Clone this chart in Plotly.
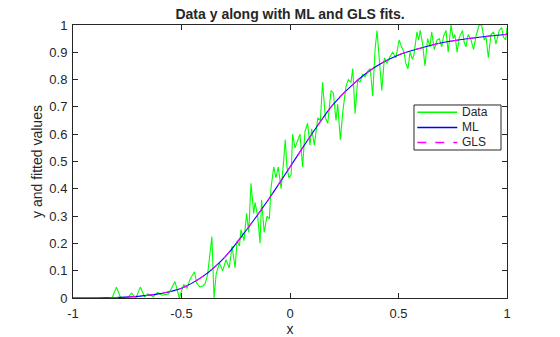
import plotly.graph_objects as go

data_x = [-1.00, -0.90, -0.82, -0.80, -0.78, -0.75, -0.73, -0.71, -0.69, -0.67,
          -0.655, -0.63, -0.61, -0.59, -0.56, -0.53, -0.51, -0.49, -0.475, -0.46,
          -0.44, -0.43, -0.415, -0.40, -0.39, -0.38, -0.36, -0.35, -0.34, -0.325,
          -0.31, -0.295, -0.28, -0.267, -0.253, -0.244, -0.233, -0.226, -0.212, -0.20,
          -0.19, -0.18, -0.167, -0.161, -0.149, -0.138, -0.131, -0.119, -0.106, -0.095,
          -0.088, -0.075, -0.065, -0.054, -0.041, -0.029, -0.022, -0.014, -0.005, 0.005,
          0.012, 0.023, 0.035, 0.046, 0.058, 0.069, 0.081, 0.092, 0.10, 0.112,
          0.128, 0.14, 0.15, 0.163, 0.174, 0.189, 0.20, 0.212, 0.22, 0.232,
          0.243, 0.258, 0.269, 0.281, 0.289, 0.30, 0.312, 0.323, 0.335, 0.346,
          0.358, 0.37, 0.381, 0.392, 0.401, 0.412, 0.423, 0.435, 0.447, 0.458,
          0.473, 0.488, 0.503, 0.514, 0.526, 0.533, 0.544, 0.553, 0.564, 0.571,
          0.585, 0.593, 0.60, 0.611, 0.622, 0.634, 0.645, 0.653, 0.665, 0.677,
          0.688, 0.699, 0.708, 0.719, 0.729, 0.742, 0.752, 0.76, 0.77, 0.78,
          0.795, 0.803, 0.811, 0.821, 0.834, 0.846, 0.857, 0.872, 0.883, 0.895,
          0.903, 0.914, 0.926, 0.938, 0.949, 0.964, 0.975, 0.984, 0.994, 1.00]
data_y = [0.0, 0.0, 0.0, 0.04, 0.0, 0.0, 0.018, 0.0, 0.04, 0.005,
          0.015, 0.005, 0.02, 0.01, 0.015, 0.06, 0.0, 0.05, 0.035, 0.07,
          0.096, 0.055, 0.04, 0.045, 0.055, 0.084, 0.225, 0.0, 0.09, 0.127,
          0.10, 0.14, 0.11, 0.19, 0.11, 0.21, 0.19, 0.25, 0.21, 0.31,
          0.24, 0.42, 0.31, 0.35, 0.30, 0.20, 0.36, 0.24, 0.30, 0.29,
          0.40, 0.48, 0.44, 0.48, 0.40, 0.505, 0.58, 0.48, 0.44, 0.45,
          0.60, 0.55, 0.58, 0.60, 0.48, 0.61, 0.64, 0.56, 0.62, 0.56,
          0.66, 0.65, 0.79, 0.66, 0.64, 0.76, 0.75, 0.65, 0.71, 0.58,
          0.68, 0.775, 0.80, 0.79, 0.84, 0.675, 0.80, 0.79, 0.82, 0.81,
          0.83, 0.84, 0.74, 0.91, 0.98, 0.86, 0.76, 0.88, 0.86, 0.88,
          0.90, 0.88, 0.945, 0.92, 0.90, 0.86, 0.84, 0.90, 0.875, 0.89,
          0.975, 0.945, 0.98, 0.93, 0.85, 0.95, 0.92, 0.975, 0.91, 0.945,
          0.95, 0.92, 0.96, 0.98, 0.90, 1.0, 0.95, 0.965, 0.90, 0.955,
          0.98, 0.935, 0.92, 0.965, 0.945, 0.91, 0.96, 1.0, 1.0, 0.945,
          0.96, 0.88, 0.965, 0.975, 0.93, 0.98, 0.99, 0.955, 0.945, 0.99]

# Fitted curves
fit_x = [-1.0, -0.9, -0.8, -0.7, -0.6, -0.5, -0.4, -0.3, -0.2, -0.1, 0.0,
         0.1, 0.2, 0.3, 0.4, 0.5, 0.6, 0.7, 0.8, 0.9, 1.0]
ml_y = [0.0, 0.0, 0.002, 0.006, 0.016, 0.036, 0.08, 0.15, 0.25, 0.36, 0.48,
        0.60, 0.71, 0.79, 0.85, 0.89, 0.915, 0.935, 0.948, 0.958, 0.966]
gls_y = [0.0, 0.0, 0.002, 0.006, 0.016, 0.036, 0.08, 0.15, 0.25, 0.36, 0.48,
         0.60, 0.71, 0.79, 0.85, 0.89, 0.915, 0.935, 0.948, 0.958, 0.966]

x_ticks = [-1, -0.5, 0, 0.5, 1]
x_tick_text = ["-1", "-0.5", "0", "0.5", "1"]
y_ticks = [0, 0.1, 0.2, 0.3, 0.4, 0.5, 0.6, 0.7, 0.8, 0.9, 1]
y_tick_text = ["0", "0.1", "0.2", "0.3", "0.4", "0.5", "0.6", "0.7", "0.8", "0.9", "1"]

series_names = ["Data", "ML", "GLS"]
series_colors = ["#00FF00", "#0000FF", "#FF00FF"]
series_dash = ["solid", "solid", "dash"]

FONT = "Liberation Sans, Arial, Helvetica, sans-serif"
AX = "#262626"

fig = go.Figure()
fig.add_trace(go.Scatter(x=data_x, y=data_y, mode="lines", name=series_names[0],
                         line=dict(color=series_colors[0], width=1.1)))
fig.add_trace(go.Scatter(x=fit_x, y=ml_y, mode="lines", name=series_names[1],
                         line=dict(color=series_colors[1], width=1.1, shape="spline")))
fig.add_trace(go.Scatter(x=fit_x, y=gls_y, mode="lines", name=series_names[2],
                         line=dict(color=series_colors[2], width=1.1, dash="dash", shape="spline")))

axis_common = dict(showline=True, linecolor=AX, linewidth=1, mirror="ticks",
                   ticks="inside", ticklen=5, tickcolor=AX, showgrid=False,
                   zeroline=False, automargin=False,
                   tickfont=dict(family=FONT, size=13, color=AX))

# Manual legend box (MATLAB style, compact rows)
shapes = [dict(type="rect", xref="paper", yref="paper", x0=0.7857, x1=0.9862,
               y0=0.5421, y1=0.7070, fillcolor="white",
               line=dict(color=AX, width=1), layer="above")]
annotations = []
row_y = [0.680, 0.625, 0.570]
for name, col, dsh, yy in zip(series_names, series_colors, series_dash, row_y):
    shapes.append(dict(type="line", xref="paper", yref="paper", x0=0.7933, x1=0.8855,
                       y0=yy, y1=yy, line=dict(color=col, width=1.5, dash=dsh), layer="above"))
    annotations.append(dict(text=name, xref="paper", yref="paper", x=0.892, y=yy,
                            xanchor="left", yanchor="middle", showarrow=False,
                            font=dict(family=FONT, size=12, color=AX)))

fig.update_layout(
    width=560, height=337,
    margin=dict(l=73, r=53, t=25, b=39),
    paper_bgcolor="white", plot_bgcolor="white",
    font=dict(family=FONT, color=AX),
    title=dict(text="<b>Data y along with ML and GLS fits.</b>", x=0.518, xanchor="center",
               y=0.958, yanchor="middle", font=dict(family=FONT, size=14, color=AX)),
    xaxis=dict(range=[-1, 1], tickvals=x_ticks, ticktext=x_tick_text, ticklabelstandoff=3,
               title=dict(text="x", font=dict(family=FONT, size=14, color=AX), standoff=6),
               **axis_common),
    yaxis=dict(range=[0, 1], tickvals=y_ticks, ticktext=y_tick_text, ticklabelstandoff=2,
               title=dict(text="y and fitted values", font=dict(family=FONT, size=14, color=AX), standoff=3),
               **axis_common),
    showlegend=False,
    shapes=shapes,
    annotations=annotations,
)

fig.write_html("out.html")
